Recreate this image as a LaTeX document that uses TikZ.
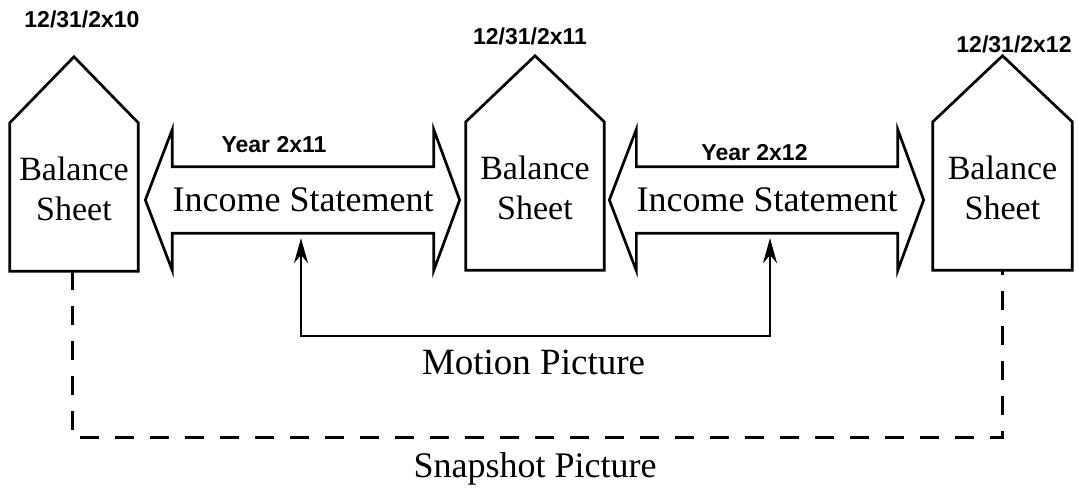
\documentclass[tikz,border=0pt]{standalone}
\usepackage{fontspec}
\setmainfont{Liberation Serif}
\newfontfamily\labelfont{Liberation Sans}
\usetikzlibrary{positioning, arrows.meta}

\begin{document}
\begin{tikzpicture}[x=1pt, y=1pt,
  >={Stealth[length=25pt,width=14pt]},
  sheet/.style={minimum height=148pt, inner sep=0pt, align=center, text depth=17pt, font=\fontsize{34}{40}\selectfont},
  outline/.style={line width=2.7pt, line join=miter},
  income/.style={minimum width=260pt, minimum height=66pt, inner sep=0pt, font=\fontsize{36}{40}\selectfont},
  datelbl/.style={anchor=base, font=\labelfont\bfseries\fontsize{23}{26}\selectfont},
  caption/.style={anchor=base, font=\fontsize{36}{40}\selectfont},
  link/.style={line width=2.6pt, shorten <=5pt, shorten >=5pt, <->},
  snap/.style={line width=3pt, dash pattern=on 19pt off 16pt}]
\useasboundingbox (0,0) rectangle (1078,487);

% Balance sheets (pentagons)
\node[sheet, minimum width=128pt] (bs1) at (74,290) {Balance\\Sheet};
\node[sheet, minimum width=138pt] (bs2) at (535,291) {Balance\\Sheet};
\node[sheet, minimum width=139pt] (bs3) at (1002.5,291) {Balance\\Sheet};
\foreach \n in {bs1,bs2,bs3}
  \draw[outline] (\n.south west) -- (\n.north west) -- ([yshift=66pt]\n.north) -- (\n.north east) -- (\n.south east) -- cycle;

% Dates
\node[datelbl] (d1) at (82,459) {12/31/2x10};
\node[datelbl] (d2) at (530,442) {12/31/2x11};
\node[datelbl] (d3) at (1014,434) {12/31/2x12};

% Income statements (double arrows)
\node[income] (is1) at (303,287) {Income Statement};
\node[income] (is2) at (767,287) {Income Statement};
\foreach \n in {is1,is2}
  \draw[outline] (\n.north west) -- (\n.north east) -- ([yshift=37.5pt]\n.north east) -- ([xshift=26pt]\n.east)
    -- ([yshift=-37.5pt]\n.south east) -- (\n.south east) -- (\n.south west) -- ([yshift=-37.5pt]\n.south west)
    -- ([xshift=-27pt]\n.west) -- ([yshift=37.5pt]\n.north west) -- cycle;
\node[datelbl] (y1) at (274,334) {Year 2x11};
\node[datelbl] (y2) at (754.5,326) {Year 2x12};

% Motion picture
\coordinate (mp1) at (301,151);
\coordinate (mp2) at (770,151);
\draw[link] (mp1 |- is1.south) -- (mp1) -- (mp2) -- (mp2 |- is2.south);
\node[caption, font=\fontsize{37}{40}\selectfont] (motion) at (533.5,112) {Motion Picture};

% Snapshot picture
\coordinate (sn1) at (72,49);
\coordinate (sn2) at (1002,49);
\draw[snap] (sn1 |- bs1.south) -- (sn1) -- (sn2) -- (sn2 |- bs3.south);
\node[caption] (snapshot) at (535,10) {Snapshot Picture};
\end{tikzpicture}
\end{document}
